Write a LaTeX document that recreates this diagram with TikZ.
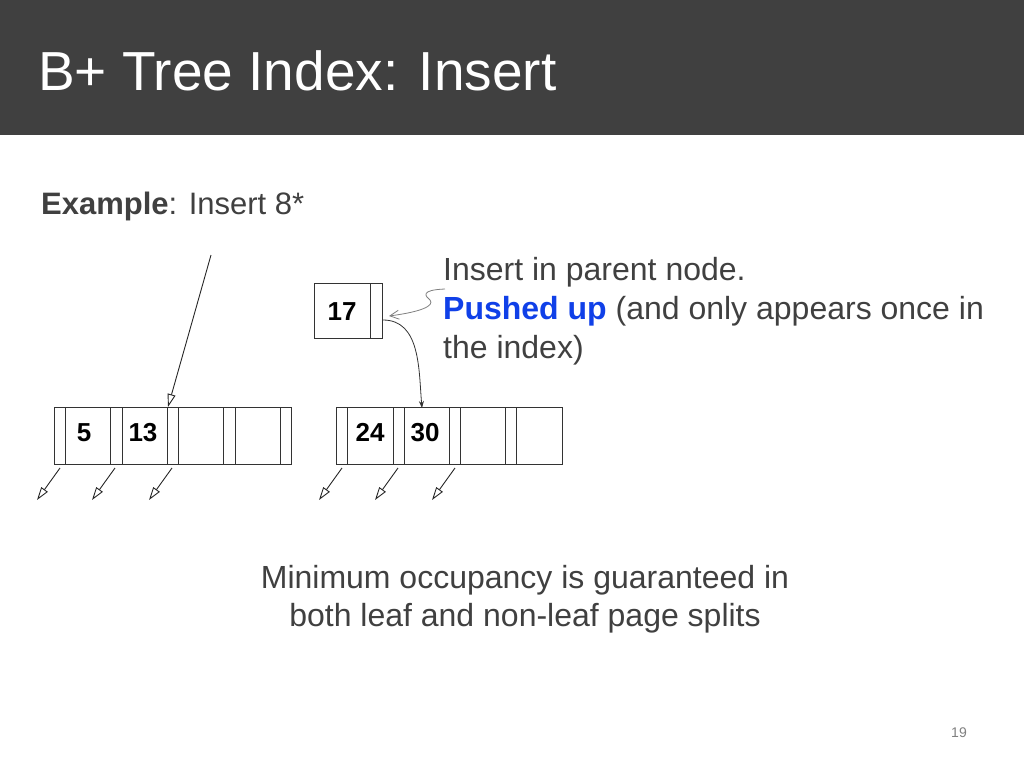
\documentclass[tikz,border=0pt]{standalone}
\usepackage{fontspec}
\setmainfont{Liberation Sans}
\usetikzlibrary{arrows.meta}
\definecolor{band}{HTML}{404040}
\definecolor{txt}{HTML}{404040}
\definecolor{pushblue}{HTML}{1040E8}
\begin{document}
\begin{tikzpicture}[x=1pt,y=-1pt,
  cell/.style={draw=black!80,line width=1pt},
  keytxt/.style={font=\fontsize{26}{26}\selectfont\bfseries,anchor=base,inner sep=0},
  ptr/.style={-{Triangle[open,length=13pt,width=8pt]},line width=0.9pt,black!85},
  body/.style={font=\fontsize{32}{40}\selectfont,text=txt,anchor=west,inner sep=0}]
\useasboundingbox (0,0) rectangle (1024,768);
\fill[band] (0,0) rectangle (1024,135);
\node[anchor=base west,inner sep=0,text=white,font=\fontsize{55}{55}\selectfont] (title) at (38,90) {B+ Tree Index: Insert};
\node[anchor=base west,inner sep=0,text=txt,font=\fontsize{31}{31}\selectfont] (ex) at (41,214) {\textbf{Example}: Insert 8*};
% left leaf
\foreach \a/\b in {54/65,110/122,167/178,223/235,280/291}{\draw[cell] (\a,407) rectangle (\b,464);}
\foreach \a/\b in {65/110,122/167,178/223,235/280}{\draw[cell] (\a,407) rectangle (\b,464);}
\node[keytxt] (k5) at (84,441) {5};
\node[keytxt] (k13) at (143,441) {13};
% right leaf
\foreach \a/\b in {336/347,393/404,449/460,505/516}{\draw[cell] (\a,407) rectangle (\b,464);}
\foreach \a/\b in {347/393,404/449,460/505,516/562}{\draw[cell] (\a,407) rectangle (\b,464);}
\node[keytxt] (k24) at (370,441) {24};
\node[keytxt] (k30) at (425,441) {30};
% 17 node
\draw[cell] (314,283) rectangle (370,338);
\draw[cell] (370,283) rectangle (382,338);
\node[keytxt] (k17) at (342,320) {17};
\coordinate (topin) at (211,255);
\coordinate (topout) at (168,407);
\draw[ptr] (topin) -- (topout);
\foreach \x/\n in {60/a,115/b,172/c,342/d,398/e,455/f}{
  \coordinate (s\n) at (\x,468);
  \coordinate (e\n) at (\x-23,500);
  \draw[ptr] (s\n) -- (e\n);
}
\coordinate (p17) at (383,320);
\coordinate (t30) at (422,408);
\draw[-{Stealth[length=7pt,width=5pt]},line width=0.8pt,black!80] (p17) to[out=0,in=95] (t30);
\coordinate (sq) at (445,289);
\coordinate (sqe) at (389,316);
\draw[-{Straight Barb[length=9pt,width=9pt]},gray,line width=0.8pt] (sq) .. controls (420,290) and (425,296) .. (430,300) .. controls (435,306) and (420,312) .. (sqe);
\node[body] (t1) at (443,272) {Insert in parent node.};
\node[body] (t2) at (443,311) {\textcolor{pushblue}{\textbf{Pushed up}} (and only appears once in};
\node[body] (t3) at (443,350) {the index)};
\node[font=\fontsize{32}{38}\selectfont,text=txt,align=center] (note) at (525,599) {Minimum occupancy is guaranteed in\\both leaf and non-leaf page splits};
\node[font=\fontsize{14}{14}\selectfont,text=gray] (pg) at (959,733) {19};
\end{tikzpicture}
\end{document}
